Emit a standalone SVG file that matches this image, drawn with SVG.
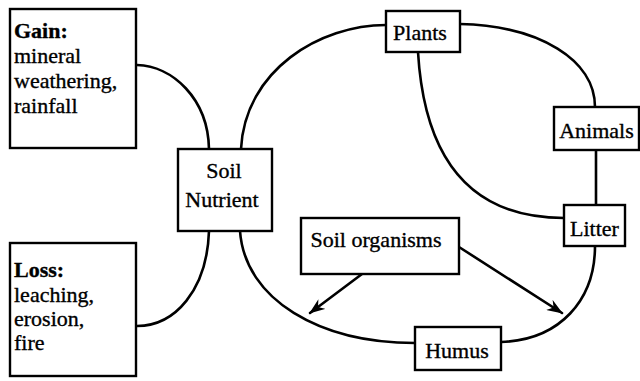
<svg xmlns="http://www.w3.org/2000/svg" width="640" height="381" viewBox="0 0 640 381">
<defs>
<style>
.box{fill:#fff;stroke:#000;stroke-width:2.4}
.t{font-family:"Liberation Serif","Times New Roman",serif;font-size:22px;fill:#000;stroke:#000;stroke-width:0.35}
.b{font-weight:bold}
.c{text-anchor:middle}
.ln{fill:none;stroke:#000;stroke-width:2.6;stroke-linecap:round}
</style>
<marker id="ah" viewBox="0 0 16 12" refX="15" refY="6" markerWidth="16" markerHeight="12" markerUnits="userSpaceOnUse" orient="auto">
<path d="M0,0 L16,6 L0,12 L5,6 Z" fill="#000"/>
</marker>
</defs>
<rect width="640" height="381" fill="#fff"/>
<g id="connectors">
<path class="ln" d="M137,65 C172,66 208,98 209,149"/>
<path class="ln" d="M209,231 C207,290 175,326 137,326"/>
<path class="ln" d="M241,149 C245,70 320,25 386,25"/>
<path class="ln" d="M240,231 C245,300 320,343 415,343"/>
<path class="ln" d="M501,342 C560,340 595,300 595,246"/>
<path class="ln" d="M460,24 C540,26 595,60 595,107"/>
<path class="ln" d="M596,150 L596,205"/>
<path class="ln" d="M418,52 C425,170 480,218 564,218"/>
<path class="ln" d="M362,274 L310,313" marker-end="url(#ah)"/>
<path class="ln" d="M459,247 L562,313" marker-end="url(#ah)"/>
</g>
<g id="gain">
<rect class="box" x="10" y="9" width="126" height="139"/>
<text class="t b" x="14" y="38">Gain:</text>
<text class="t" x="14" y="63">mineral</text>
<text class="t" x="14" y="88">weathering,</text>
<text class="t" x="14" y="113">rainfall</text>
</g>
<g id="loss">
<rect class="box" x="10" y="243" width="126" height="133"/>
<text class="t b" x="14" y="277">Loss:</text>
<text class="t" x="14" y="302">leaching,</text>
<text class="t" x="14" y="326">erosion,</text>
<text class="t" x="14" y="350">fire</text>
</g>
<g id="soil-nutrient">
<rect class="box" x="178" y="149" width="94" height="82"/>
<text class="t c" x="224" y="178">Soil</text>
<text class="t c" x="222" y="207">Nutrient</text>
</g>
<g id="plants">
<rect class="box" x="386" y="11" width="74" height="41"/>
<text class="t c" x="420" y="40">Plants</text>
</g>
<g id="animals">
<rect class="box" x="554" y="107" width="85" height="43"/>
<text class="t c" x="596.5" y="138">Animals</text>
</g>
<g id="litter">
<rect class="box" x="564" y="205" width="61" height="41"/>
<text class="t c" x="594.5" y="236">Litter</text>
</g>
<g id="soil-organisms">
<rect class="box" x="301" y="218" width="158" height="56"/>
<text class="t c" x="376" y="247">Soil organisms</text>
</g>
<g id="humus">
<rect class="box" x="415" y="327" width="86" height="43"/>
<text class="t c" x="457" y="358">Humus</text>
</g>
</svg>
